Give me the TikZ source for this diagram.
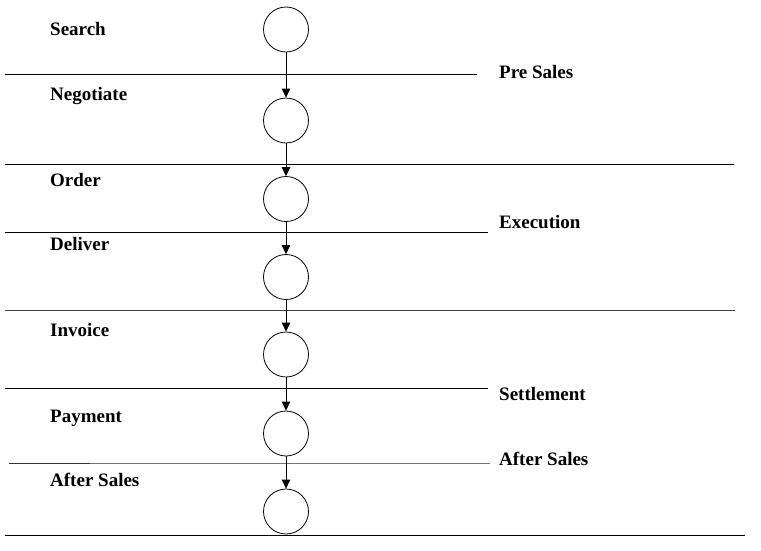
\documentclass[tikz,border=0pt]{standalone}
\usepackage{fontspec}
\setmainfont{Liberation Serif}
\usetikzlibrary{arrows.meta}
\begin{document}
\begin{tikzpicture}[x=1pt,y=-1pt,
  stage/.style={circle,draw,line width=0.8pt,minimum size=45pt,inner sep=0pt},
  lbl/.style={anchor=base west,inner sep=0pt,font=\fontsize{19}{22}\selectfont\bfseries},
  sep/.style={line width=1pt},
  arr/.style={line width=1pt,-{Triangle[length=9pt,width=8.5pt]}}]
\useasboundingbox (0,0) rectangle (761,550);
% separators
\draw[sep] (5,74) -- (477,74);
\draw[sep] (5,164) -- (734,164);
\draw[sep] (5,232) -- (488,232);
\draw[sep,draw=black!75] (5,310) -- (735,310);
\draw[sep] (5,388) -- (488,388);
\draw[sep,draw=black!80] (9,463) -- (90,463);
\draw[sep,draw=black!55] (90,463) -- (490,463);
\draw[sep] (5,535) -- (745,535);
% stages
\node[stage] (c1) at (286,29.5) {};
\node[stage] (c2) at (286,120.5) {};
\node[stage] (c3) at (286,199) {};
\node[stage] (c4) at (286,277) {};
\node[stage] (c5) at (286,354.5) {};
\node[stage] (c6) at (286,433.5) {};
\node[stage] (c7) at (286,511.5) {};
\draw[arr] (c1) -- (c2);
\draw[arr] (c2) -- (c3);
\draw[arr] (c3) -- (c4);
\draw[arr] (c4) -- (c5);
\draw[arr] (c5) -- (c6);
\draw[arr] (c6) -- (c7);
% left labels
\node[lbl] (l1) at (50,35) {Search};
\node[lbl] (l2) at (50,100) {Negotiate};
\node[lbl] (l3) at (50,186) {Order};
\node[lbl] (l4) at (50,250) {Deliver};
\node[lbl] (l5) at (50,336) {Invoice};
\node[lbl] (l6) at (50,422) {Payment};
\node[lbl] (l7) at (50,486) {After Sales};
% right labels
\node[lbl] (r1) at (499,78) {Pre Sales};
\node[lbl] (r2) at (499,228) {Execution};
\node[lbl] (r3) at (499,400) {Settlement};
\node[lbl] (r4) at (499,465) {After Sales};
\end{tikzpicture}
\end{document}
